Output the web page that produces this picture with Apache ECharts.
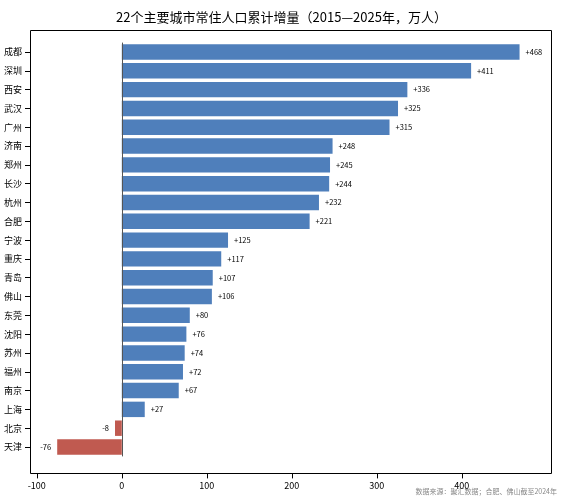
<!DOCTYPE html>
<html>
<head>
<meta charset="utf-8">
<script src="https://cdn.jsdelivr.net/npm/echarts@6/dist/echarts.min.js"></script>
<style>html,body{margin:0;padding:0;background:#fff}#chart{width:563px;height:500px}</style>
</head>
<body>
<div id="chart"></div>
<script>
// City population increase, 2015-2025 (10k people)
const cities = ['成都','深圳','西安','武汉','广州','济南','郑州','长沙','杭州','合肥','宁波','重庆','青岛','佛山','东莞','沈阳','苏州','福州','南京','上海','北京','天津'];
const values = [468,411,336,325,315,248,245,244,232,221,125,117,107,106,80,76,74,72,67,27,-8,-76];
const tickValues = [-100,0,100,200,300,400];

const chart = echarts.init(document.getElementById('chart'));
const font = '"Noto Sans CJK SC", "Noto Sans", sans-serif';

chart.setOption({
    animation: false,
    title: {
        text: '22个主要城市常住人口累计增量（2015—2025年，万人）',
        left: 'center', top: 6,
        textStyle: { fontSize: 13, fontWeight: 'normal', color: '#000', fontFamily: font }
    },
    graphic: [{
        type: 'rect', shape: { x: 30.5, y: 30.5, width: 521, height: 443 },
        style: { fill: 'none', stroke: '#000', lineWidth: 1 }, silent: true
    }, {
        type: 'text', right: 6, bottom: 5,
        style: { text: '数据来源：聚汇数据；合肥、佛山截至2024年', fill: '#888', fontSize: 7, fontFamily: font }
    }],
    grid: { left: 30, right: 12, top: 42.6, bottom: 43.6 },
    xAxis: {
        type: 'value', min: -108, max: 505, offset: 17,
        splitLine: { show: false },
        axisLine: { show: false },
        axisTick: { show: true, customValues: tickValues, lineStyle: { color: '#000' } },
        axisLabel: { customValues: tickValues, color: '#000', fontSize: 9, fontFamily: font }
    },
    yAxis: {
        type: 'category', data: cities, inverse: true,
        axisLine: { show: false, onZero: false },
        axisTick: { show: true, alignWithLabel: true, lineStyle: { color: '#000' } },
        axisLabel: { color: '#000', fontSize: 9, fontFamily: font }
    },
    series: [{
        type: 'bar', barCategoryGap: '18%',
        data: values.map(v => ({
            value: v,
            itemStyle: { color: v < 0 ? '#c05a50' : '#4f7fbb' },
            label: { position: v < 0 ? 'left' : 'right' }
        })),
        label: {
            show: true, fontSize: 7.5, color: '#000', distance: 6, fontFamily: font,
            formatter: p => (p.value > 0 ? '+' : '') + p.value
        },
        markLine: {
            silent: true, symbol: 'none', label: { show: false },
            lineStyle: { color: '#555', type: 'solid', width: 1 },
            data: [{ xAxis: 0 }]
        }
    }]
});
</script>
</body>
</html>
